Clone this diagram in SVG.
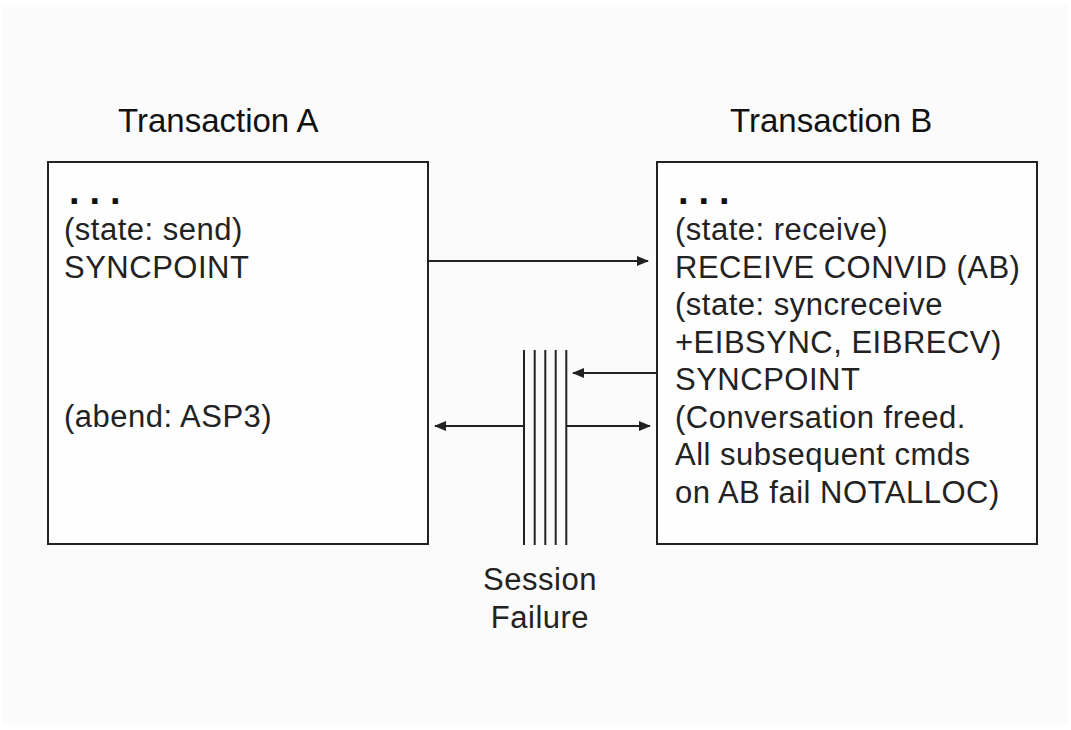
<svg xmlns="http://www.w3.org/2000/svg" width="1071" height="730" viewBox="0 0 1071 730">
<defs>
<style>
.bg{fill:#fbfbfb}
.box{fill:#fefefe;stroke:#222;stroke-width:2}
.t{font-family:"Liberation Sans",Arial,sans-serif;font-size:31px;fill:#222;letter-spacing:0.5px}
.title{font-family:"Liberation Sans",Arial,sans-serif;font-size:33px;fill:#111}
.dots{font-family:"Liberation Sans",Arial,sans-serif;font-size:38px;font-weight:bold;fill:#111;letter-spacing:10px}
.ln{stroke:#222;stroke-width:2;fill:none}
</style>
<marker id="ah" viewBox="0 0 12 10" refX="11" refY="5" markerWidth="12" markerHeight="10" markerUnits="userSpaceOnUse" orient="auto">
<path d="M0,0 L12,5 L0,10 Z" fill="#222"/>
</marker>
</defs>
<rect width="1071" height="730" fill="#ffffff"/>
<rect class="bg" x="2" y="5" width="1066" height="720"/>

<g id="titleA"><text class="title" x="118" y="132">Transaction A</text></g>
<g id="titleB"><text class="title" x="730" y="132">Transaction B</text></g>

<g id="transactionA">
<rect class="box" x="48" y="162" width="380" height="382"/>
<text class="dots" x="69" y="204">...</text>
<text class="t" x="64" y="240">(state: send)</text>
<text class="t" x="64" y="277.5">SYNCPOINT</text>
<text class="t" x="64" y="427">(abend: ASP3)</text>
</g>

<g id="transactionB">
<rect class="box" x="657" y="162" width="380" height="382"/>
<text class="dots" x="678" y="204">...</text>
<text class="t" x="675" y="240">(state: receive)</text>
<text class="t" x="675" y="277.5">RECEIVE CONVID (AB)</text>
<text class="t" x="675" y="315">(state: syncreceive</text>
<text class="t" x="675" y="352.5">+EIBSYNC, EIBRECV)</text>
<text class="t" x="675" y="390">SYNCPOINT</text>
<text class="t" x="675" y="427.5">(Conversation freed.</text>
<text class="t" x="675" y="465">All subsequent cmds</text>
<text class="t" x="675" y="502.5">on AB fail NOTALLOC)</text>
</g>

<g id="sessionFailure">
<line class="ln" x1="524" y1="350" x2="524" y2="545"/>
<line class="ln" x1="534.7" y1="350" x2="534.7" y2="545"/>
<line class="ln" x1="545.3" y1="350" x2="545.3" y2="545"/>
<line class="ln" x1="555.7" y1="350" x2="555.7" y2="545"/>
<line class="ln" x1="566.3" y1="350" x2="566.3" y2="545"/>
<text class="t" x="540" y="590" text-anchor="middle">Session</text>
<text class="t" x="540" y="628" text-anchor="middle">Failure</text>
</g>

<g id="connectors">
<line class="ln" x1="428" y1="261" x2="648" y2="261" marker-end="url(#ah)"/>
<line class="ln" x1="657" y1="373" x2="573" y2="373" marker-end="url(#ah)"/>
<line class="ln" x1="524" y1="426" x2="435" y2="426" marker-end="url(#ah)"/>
<line class="ln" x1="566.3" y1="426" x2="650" y2="426" marker-end="url(#ah)"/>
</g>
</svg>
